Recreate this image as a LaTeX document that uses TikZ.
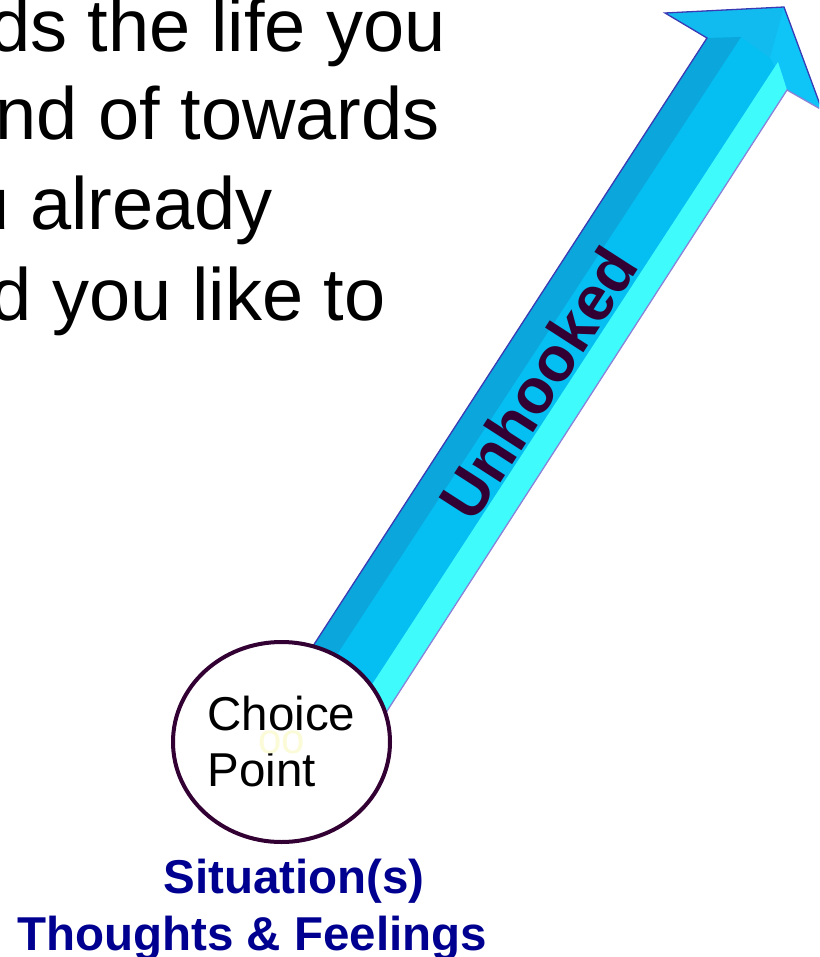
\documentclass[tikz,border=0pt]{standalone}
\usepackage{fontspec}
\setmainfont{Liberation Sans}
\usetikzlibrary{calc, shapes.geometric}
\definecolor{ShaftDark}{HTML}{0AA6DC}
\definecolor{ShaftMid}{HTML}{05BEF2}
\definecolor{ShaftLight}{HTML}{40FBFC}
\definecolor{HeadFace}{HTML}{12BBEF}
\definecolor{HeadSide}{HTML}{0FC4F6}
\definecolor{EdgeDeep}{HTML}{3A3AB4}
\definecolor{EdgeSoft}{HTML}{8A82D8}
\definecolor{RingPlum}{HTML}{330033}
\definecolor{CueNavy}{HTML}{000090}
\definecolor{Ghost}{HTML}{FBFBD8}
\def\Rim{4pt}
\tikzset{
    body text/.style={
        font=\fontsize{74}{88}\selectfont,
        anchor=base east, inner sep=0pt
    },
    choice ring/.style={
        ellipse, draw=RingPlum, line width=\Rim, fill=white,
        minimum width=217pt, minimum height=200pt, inner sep=0pt,
        align=left, font=\fontsize{47.5}{56}\selectfont
    },
    cue text/.style={
        font=\bfseries\fontsize{47.5}{57}\selectfont,
        text=CueNavy, anchor=base, inner sep=0pt
    },
    shaft edge/.style={draw=#1, line width=1.3pt, line join=miter}
}

\begin{document}
\begin{tikzpicture}[x=1pt, y=-1pt]
    \clip (0,0) rectangle (819,957);
    \coordinate (L0) at (278, 700);
    \coordinate (R0) at (360, 753);
    \coordinate (L1) at (707, 38);
    \coordinate (R1) at (787, 90);
    \coordinate (BL) at (665, 13);
    \coordinate (T) at (784, 7);
    \coordinate (BR) at (822, 110);
    \coordinate (D1) at (741, 37);
    \coordinate (C1) at (778, 62);
    \coordinate (K) at (770, 58);

    % head facets
    \fill[HeadFace] (BL) -- (T) -- (BR) -- (R1) -- (L1) -- cycle;
    \fill[HeadSide] (T) -- (BR) -- (R1) -- (K) -- cycle;
    % shaft strips
    \fill[ShaftMid] (L0) -- (R0) -- (R1) -- (K) -- (D1) -- (L1) -- cycle;
    \fill[ShaftDark] (L0) -- ($(L0)!0.25!(R0)$) -- (D1) -- (L1) -- cycle;
    \fill[ShaftLight] ($(L0)!0.72!(R0)$) -- (R0) -- (R1) -- (C1) -- cycle;
    \draw[shaft edge=EdgeDeep] (L0) -- (L1) -- (BL) -- (T) -- (BR);
    \draw[shaft edge=EdgeSoft] (BR) -- (R1) -- (R0);

    \node[rotate=57.2, text=RingPlum, inner sep=0pt,
        font=\bfseries\fontsize{63}{63}\selectfont] (unhooked) at (538,383) {Unhooked};

    \node[choice ring] (cp) at (281.5,742) {Choice\\Point};
    \node[text=Ghost, font=\fontsize{42}{42}\selectfont, inner sep=0pt] (ghost) at (282,742) {oo};

    \node[cue text] (situation) at (294,893) {Situation(s)};
    \node[cue text] (feelings) at (252,950) {Thoughts \& Feelings};

    \node[body text] (line1) at (446,52) {ds the life you};
    \node[body text] (line2) at (440,140) {nd of towards};
    \node[body text] (line3) at (273,230) {u already};
    \node[body text] (line4) at (386,320) {d you like to};
\end{tikzpicture}
\end{document}
